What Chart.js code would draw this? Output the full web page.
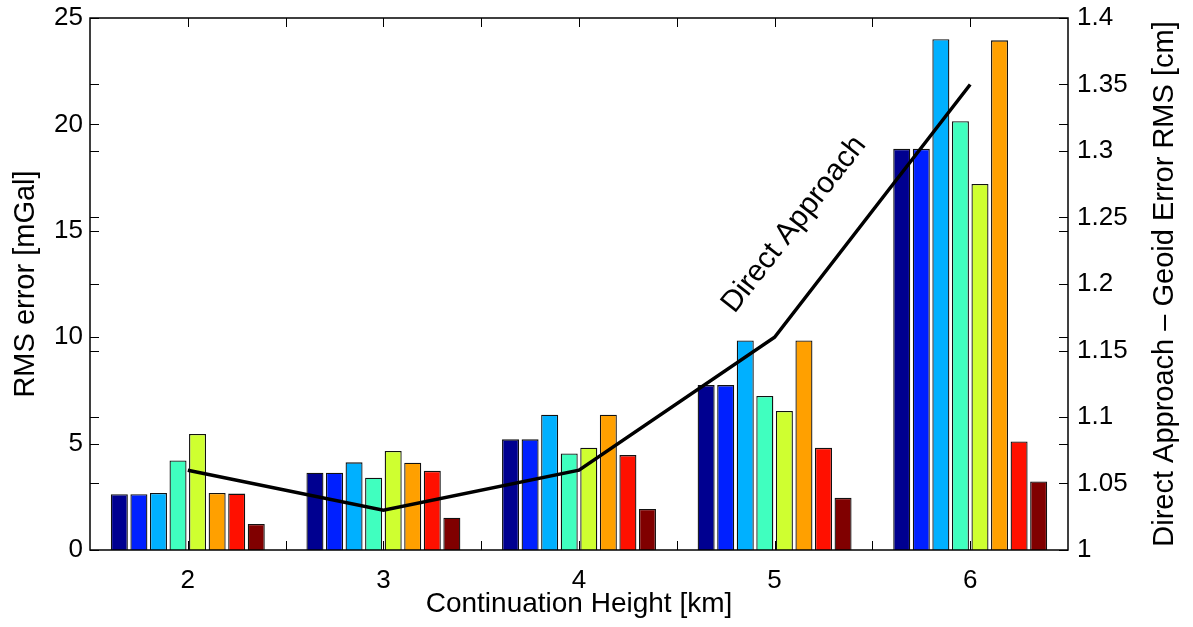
<!DOCTYPE html>
<html>
<head>
<meta charset="utf-8">
<script src="https://cdn.jsdelivr.net/npm/chart.js@4/dist/chart.umd.min.js"></script>
<style>
  html, body { margin: 0; padding: 0; background: #fff; }
  #wrap { width: 1193px; height: 627px; }
</style>
</head>
<body>
<div id="wrap"><canvas id="rmsChart"></canvas></div>
<script>
// continuation heights (km)
const heights = ["2", "3", "4", "5", "6"];

// RMS error of each method, mGal
const series1 = [2.62, 3.63, 5.20, 7.75, 18.85];
const series2 = [2.62, 3.63, 5.20, 7.75, 18.85];
const series3 = [2.68, 4.12, 6.36, 9.85, 24.0];
const series4 = [4.21, 3.40, 4.54, 7.24, 20.15];
const series5 = [5.45, 4.65, 4.81, 6.53, 17.2];
const series6 = [2.68, 4.10, 6.36, 9.85, 23.95];
const series7 = [2.65, 3.72, 4.46, 4.80, 5.10];
const series8 = [1.22, 1.52, 1.93, 2.45, 3.22];

// direct approach - geoid error RMS, cm
const directApproach = [1.06, 1.03, 1.06, 1.16, 1.35];

const leftTicks = [0, 5, 10, 15, 20, 25];
const rightTicks = [1, 1.05, 1.1, 1.15, 1.2, 1.25, 1.3, 1.35, 1.4];

const barColors = ["#000090", "#0020ff", "#00b0ff", "#40ffbf", "#cfff30", "#ffa000", "#ff1000", "#800000"];
const barSeries = [series1, series2, series3, series4, series5, series6, series7, series8];

const FONT = "'Liberation Sans', Arial, Helvetica, sans-serif";

// frame, inward ticks, right title and the rotated line label
const framePlugin = {
  id: "frame",
  afterDraw(chart) {
    const { ctx, chartArea: a, scales } = chart;
    const len = 9;
    ctx.save();
    ctx.strokeStyle = "#000";
    ctx.lineWidth = 1;
    ctx.beginPath();
    leftTicks.forEach((v) => {
      const y = Math.round(scales.y.getPixelForValue(v)) + 0.5;
      ctx.moveTo(a.left, y); ctx.lineTo(a.left + len, y);
      ctx.moveTo(a.right, y); ctx.lineTo(a.right - len, y);
    });
    rightTicks.forEach((v) => {
      const y = Math.round(scales.y1.getPixelForValue(v)) + 0.5;
      ctx.moveTo(a.left, y); ctx.lineTo(a.left + len, y);
      ctx.moveTo(a.right, y); ctx.lineTo(a.right - len, y);
    });
    for (let i = 0; i < heights.length; i++) {
      [i, i + 0.5].forEach((v) => {
        if (v > heights.length - 1) return;
        const x = Math.round(scales.x.getPixelForValue(v)) + 0.5;
        ctx.moveTo(x, a.bottom); ctx.lineTo(x, a.bottom - len);
        ctx.moveTo(x, a.top); ctx.lineTo(x, a.top + len);
      });
    }
    ctx.stroke();

    ctx.lineWidth = 1.5;
    ctx.strokeRect(a.left, a.top, a.right - a.left, a.bottom - a.top);

    ctx.fillStyle = "#000";
    ctx.textAlign = "center";
    ctx.textBaseline = "middle";

    // right axis title, reading bottom to top
    ctx.save();
    ctx.translate(scales.y1.right - 28, (a.top + a.bottom) / 2);
    ctx.rotate(-Math.PI / 2);
    ctx.font = "29px " + FONT;
    ctx.fillText("Direct Approach – Geoid Error RMS [cm]", 0, 0);
    ctx.restore();

    // "Direct Approach" label next to the line
    const lx = scales.x.getPixelForValue(3.1);
    const ly = scales.y.getPixelForValue(15.3);
    ctx.translate(lx, ly);
    ctx.rotate(-52 * Math.PI / 180);
    ctx.font = "30px " + FONT;
    ctx.fillText("Direct Approach", 0, 0);
    ctx.restore();
  }
};

const datasets = [
  {
    type: "line",
    label: "Direct Approach",
    data: directApproach,
    yAxisID: "y1",
    borderColor: "#000",
    borderWidth: 3.5,
    pointRadius: 0,
    fill: false,
    tension: 0,
    order: 0,
  },
];
barSeries.forEach((values, i) => {
  datasets.push({
    type: "bar",
    label: "series " + (i + 1),
    data: values,
    yAxisID: "y",
    backgroundColor: barColors[i],
    borderColor: "#111",
    borderWidth: 1.3,
    categoryPercentage: 0.8,
    barPercentage: 0.87,
    order: 1,
  });
});

// fixed axis sizes so the plot box lands where the original has it
const fixWidth = (w) => (s) => { s.width = w; s.paddingTop = 0; s.paddingBottom = 0; };

const ctx = document.getElementById("rmsChart").getContext("2d");
new Chart(ctx, {
  type: "bar",
  data: { labels: heights, datasets: datasets },
  options: {
    responsive: true,
    maintainAspectRatio: false,
    animation: false,
    layout: { padding: { top: 18, right: 0, bottom: 0, left: 0 } },
    plugins: { legend: { display: false }, tooltip: { enabled: false } },
    scales: {
      x: {
        offset: true,
        grid: { display: false, drawTicks: false },
        border: { display: false },
        ticks: { color: "#000", font: { family: FONT, size: 26 }, padding: 15 },
        title: {
          display: true,
          text: "Continuation Height [km]",
          color: "#000",
          font: { family: FONT, size: 28 },
          padding: { top: 0, bottom: 6 },
        },
        afterFit: (s) => { s.height = 77; s.paddingLeft = 0; s.paddingRight = 0; },
      },
      y: {
        position: "left",
        min: 0,
        max: 25,
        grid: { display: false, drawTicks: false },
        border: { display: false },
        ticks: { stepSize: 5, color: "#000", font: { family: FONT, size: 26 }, padding: 7 },
        title: {
          display: true,
          text: "RMS error [mGal]",
          color: "#000",
          font: { family: FONT, size: 29 },
          padding: { top: 9, bottom: 0 },
        },
        afterFit: fixWidth(90),
      },
      y1: {
        position: "right",
        min: 1,
        max: 1.4,
        grid: { display: false, drawTicks: false },
        border: { display: false },
        ticks: {
          stepSize: 0.05,
          color: "#000",
          font: { family: FONT, size: 26 },
          padding: 9,
          callback: (v) => String(Math.round(v * 100) / 100),
        },
        afterFit: fixWidth(125),
      },
    },
  },
  plugins: [framePlugin],
});
</script>
</body>
</html>
